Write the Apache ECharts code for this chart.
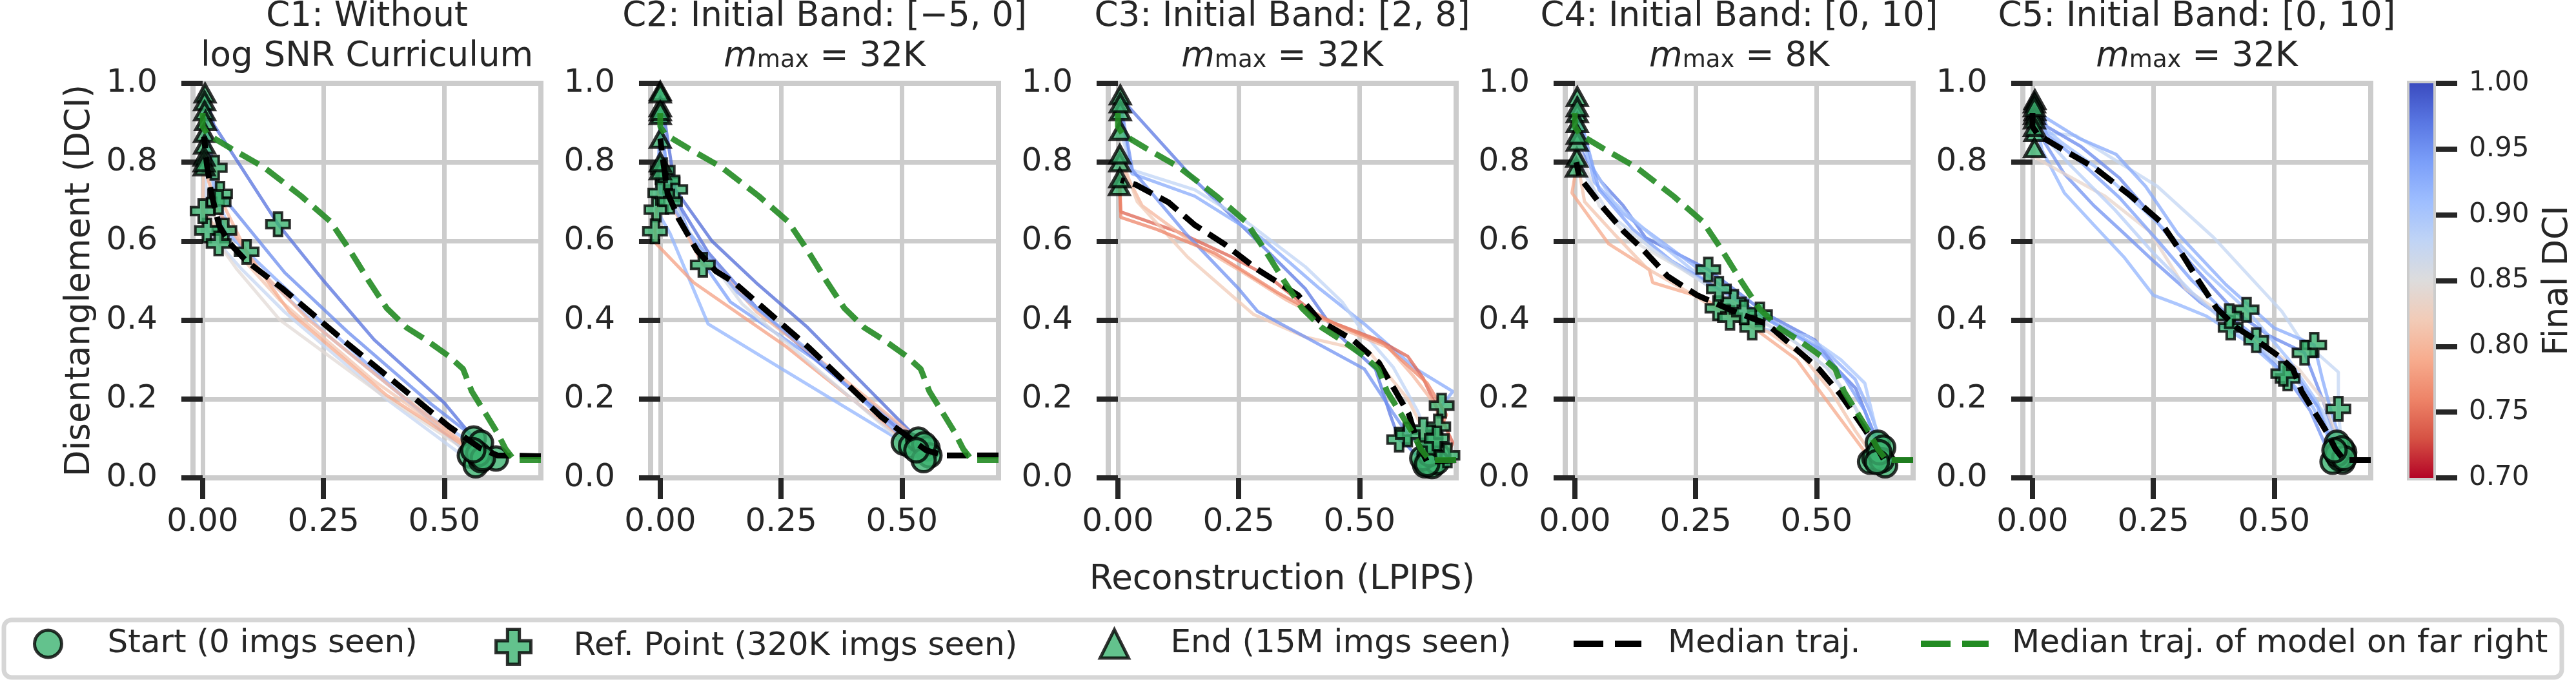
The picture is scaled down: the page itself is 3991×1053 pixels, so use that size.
<!DOCTYPE html>
<html>
<head>
<meta charset="utf-8">
<script src="https://cdn.jsdelivr.net/npm/echarts@6.0.0/dist/echarts.min.js"></script>
<style>
  html, body { margin: 0; padding: 0; background: #fff; }
  #chart { width: 3991px; height: 1053px; }
</style>
</head>
<body>
<div id="chart"></div>
<script>
// ---------- data ----------
const xTicks = [0, 0.25, 0.5];
const cbMin = 0.70, cbMax = 1.00;

const titleLine1 = ['C1: Without', 'C2: Initial Band: [\u22125, 0]', 'C3: Initial Band: [2, 8]',
                    'C4: Initial Band: [0, 10]', 'C5: Initial Band: [0, 10]'];
const mMax = [null, '32K', '32K', '8K', '32K'];

// each trajectory: start -> ... -> end, points are [LPIPS, DCI]
const trajC1 = [
  [[0.561,0.10],[0.50,0.19],[0.355,0.35],[0.25,0.50],[0.156,0.643],[0.023,0.895],[0.005,0.975]],
  [[0.576,0.089],[0.47,0.19],[0.30,0.37],[0.17,0.52],[0.07,0.67],[0.036,0.72],[0.01,0.86],[0.004,0.955]],
  [[0.553,0.057],[0.42,0.20],[0.25,0.39],[0.12,0.54],[0.045,0.627],[0.015,0.78],[0.004,0.93]],
  [[0.607,0.049],[0.44,0.18],[0.26,0.36],[0.12,0.52],[0.06,0.62],[0.033,0.699],[0.006,0.905]],
  [[0.565,0.032],[0.38,0.20],[0.17,0.42],[0.08,0.53],[0.009,0.627],[0.004,0.875]],
  [[0.576,0.045],[0.36,0.22],[0.16,0.40],[0.07,0.53],[0.033,0.594],[0.004,0.845]],
  [[0.57,0.06],[0.35,0.25],[0.16,0.45],[0.05,0.60],[0.0,0.676],[0.003,0.815]],
  [[0.58,0.05],[0.38,0.21],[0.18,0.42],[0.091,0.573],[0.03,0.68],[0.003,0.79]],
  [[0.56,0.07],[0.40,0.22],[0.22,0.40],[0.10,0.55],[0.04,0.70],[0.025,0.786],[0.003,0.80]]
];
const refIdxC1 = [4, 5, 4, 5, 4, 4, 4, 3, 5];

const trajC2 = [
  [[0.504,0.089],[0.252,0.276],[0.099,0.39],[0.02,0.62],[-0.008,0.68],[0.0,0.92]],
  [[0.519,0.081],[0.26,0.333],[0.069,0.495],[-0.008,0.593],[-0.011,0.625],[0.0,0.78]],
  [[0.534,0.097],[0.305,0.381],[0.198,0.495],[0.107,0.60],[0.031,0.731],[0.0,0.98]],
  [[0.553,0.075],[0.32,0.30],[0.145,0.446],[0.08,0.56],[0.015,0.755],[0.0,0.94]],
  [[0.557,0.057],[0.35,0.27],[0.20,0.43],[0.10,0.57],[0.035,0.70],[0.0,0.722],[0.0,0.975]],
  [[0.546,0.085],[0.35,0.28],[0.20,0.42],[0.12,0.53],[0.088,0.54],[0.02,0.70],[0.0,0.80]],
  [[0.545,0.045],[0.33,0.27],[0.17,0.44],[0.05,0.64],[0.005,0.78],[0.0,0.86]],
  [[0.53,0.07],[0.31,0.32],[0.16,0.47],[0.06,0.62],[0.02,0.70],[0.0,0.93]]
];
const refIdxC2 = [4, 4, 4, 4, 5, 4, 4, 4];

const trajC3 = [
  [[0.636,0.032],[0.60,0.08],[0.582,0.097],[0.563,0.162],[0.533,0.276],[0.45,0.37],[0.388,0.479],[0.289,0.60],[0.159,0.755],[0.021,0.942],[0.005,0.97]],
  [[0.663,0.057],[0.67,0.10],[0.67,0.183],[0.693,0.219],[0.617,0.276],[0.51,0.39],[0.418,0.479],[0.296,0.609],[0.159,0.714],[0.029,0.771],[0.005,0.93]],
  [[0.647,0.04],[0.64,0.06],[0.647,0.089],[0.62,0.17],[0.57,0.28],[0.51,0.365],[0.464,0.446],[0.388,0.535],[0.266,0.649],[0.159,0.73],[0.03,0.78],[0.005,0.88]],
  [[0.65,0.03],[0.682,0.057],[0.693,0.089],[0.632,0.252],[0.60,0.308],[0.54,0.349],[0.418,0.406],[0.311,0.511],[0.235,0.56],[0.121,0.625],[0.006,0.674],[0.003,0.74]],
  [[0.66,0.04],[0.663,0.13],[0.66,0.18],[0.61,0.26],[0.56,0.33],[0.46,0.38],[0.35,0.45],[0.26,0.52],[0.15,0.60],[0.05,0.69],[0.004,0.80]],
  [[0.63,0.05],[0.632,0.122],[0.60,0.20],[0.52,0.32],[0.388,0.357],[0.281,0.414],[0.144,0.56],[0.04,0.70],[0.004,0.82]],
  [[0.645,0.06],[0.62,0.09],[0.60,0.11],[0.571,0.162],[0.51,0.276],[0.388,0.357],[0.289,0.422],[0.25,0.479],[0.14,0.62],[0.03,0.78],[0.005,0.95]],
  [[0.64,0.035],[0.66,0.10],[0.68,0.16],[0.64,0.24],[0.55,0.34],[0.45,0.39],[0.33,0.47],[0.20,0.57],[0.08,0.63],[0.006,0.66],[0.004,0.76]]
];
const refIdxC3 = [2, 2, 2, 1, 1, 1, 2, 1];

const trajC4 = [
  [[0.627,0.089],[0.581,0.227],[0.543,0.276],[0.497,0.349],[0.398,0.414],[0.276,0.528],[0.146,0.609],[0.10,0.69],[0.055,0.75],[0.009,0.836],[0.005,0.966]],
  [[0.638,0.077],[0.61,0.17],[0.58,0.25],[0.52,0.32],[0.45,0.37],[0.383,0.414],[0.30,0.49],[0.20,0.58],[0.10,0.67],[0.04,0.75],[0.005,0.925]],
  [[0.642,0.032],[0.62,0.14],[0.60,0.24],[0.55,0.30],[0.48,0.36],[0.367,0.381],[0.30,0.47],[0.19,0.58],[0.08,0.70],[0.03,0.80],[0.005,0.90]],
  [[0.611,0.041],[0.596,0.073],[0.512,0.211],[0.459,0.30],[0.37,0.38],[0.295,0.43],[0.269,0.455],[0.161,0.495],[0.154,0.528],[0.07,0.593],[-0.006,0.722],[0.003,0.787]],
  [[0.62,0.05],[0.58,0.12],[0.53,0.22],[0.47,0.31],[0.40,0.37],[0.321,0.406],[0.25,0.46],[0.15,0.53],[0.08,0.62],[0.02,0.70],[0.004,0.812]],
  [[0.635,0.045],[0.59,0.16],[0.53,0.27],[0.46,0.34],[0.329,0.446],[0.22,0.53],[0.12,0.60],[0.05,0.69],[0.005,0.853]],
  [[0.63,0.065],[0.60,0.17],[0.56,0.25],[0.50,0.33],[0.40,0.40],[0.298,0.479],[0.20,0.55],[0.12,0.63],[0.05,0.73],[0.005,0.94]],
  [[0.625,0.04],[0.58,0.18],[0.52,0.28],[0.44,0.36],[0.35,0.42],[0.26,0.50],[0.16,0.58],[0.07,0.67],[0.02,0.77],[0.005,0.87]]
];
const refIdxC4 = [5, 5, 5, 5, 5, 4, 5, 4];

const trajC5 = [
  [[0.642,0.041],[0.633,0.175],[0.633,0.268],[0.551,0.357],[0.516,0.422],[0.375,0.609],[0.258,0.739],[0.089,0.868],[0.005,0.877]],
  [[0.645,0.065],[0.62,0.16],[0.60,0.25],[0.583,0.337],[0.50,0.38],[0.40,0.49],[0.30,0.62],[0.234,0.739],[0.173,0.82],[0.097,0.86],[0.005,0.93]],
  [[0.63,0.089],[0.60,0.20],[0.563,0.317],[0.49,0.36],[0.42,0.42],[0.33,0.54],[0.25,0.66],[0.18,0.76],[0.10,0.84],[0.03,0.89],[0.005,0.958]],
  [[0.621,0.041],[0.575,0.17],[0.528,0.252],[0.504,0.284],[0.434,0.373],[0.346,0.446],[0.25,0.55],[0.189,0.62],[0.127,0.69],[0.066,0.77],[0.02,0.86],[0.004,0.95]],
  [[0.635,0.05],[0.58,0.18],[0.519,0.264],[0.45,0.34],[0.36,0.41],[0.30,0.44],[0.25,0.463],[0.189,0.56],[0.127,0.641],[0.066,0.722],[0.02,0.83],[0.004,0.92]],
  [[0.64,0.075],[0.60,0.20],[0.551,0.276],[0.463,0.349],[0.40,0.41],[0.317,0.479],[0.242,0.625],[0.15,0.714],[0.005,0.812],[0.004,0.836]],
  [[0.63,0.06],[0.59,0.19],[0.53,0.30],[0.443,0.426],[0.36,0.52],[0.29,0.61],[0.22,0.69],[0.14,0.78],[0.06,0.85],[0.004,0.909]],
  [[0.645,0.05],[0.60,0.17],[0.53,0.27],[0.47,0.33],[0.41,0.381],[0.33,0.47],[0.25,0.57],[0.17,0.68],[0.08,0.79],[0.02,0.87],[0.004,0.89]],
  [[0.625,0.07],[0.59,0.18],[0.54,0.27],[0.48,0.34],[0.407,0.41],[0.33,0.50],[0.26,0.60],[0.18,0.71],[0.10,0.80],[0.03,0.87],[0.004,0.94]]
];
const refIdxC5 = [1, 3, 2, 2, 2, 3, 3, 4, 4];

// median trajectories
const medianC1 = [[0.70,0.055],[0.61,0.057],[0.575,0.075],[0.51,0.13],[0.29,0.35],[0.165,0.48],[0.09,0.55],[0.057,0.593],[0.034,0.64],[0.018,0.72],[0.008,0.80],[0.003,0.865]];
const medianC2 = [[0.70,0.057],[0.588,0.057],[0.55,0.07],[0.458,0.154],[0.305,0.333],[0.153,0.495],[0.115,0.524],[0.076,0.576],[0.038,0.657],[0.015,0.722],[0.004,0.82],[0.0,0.86]];
const medianC3 = [[0.70,0.045],[0.64,0.04],[0.62,0.09],[0.602,0.162],[0.54,0.292],[0.487,0.349],[0.418,0.398],[0.373,0.463],[0.289,0.528],[0.22,0.593],[0.159,0.641],[0.105,0.698],[0.037,0.743],[0.006,0.755]];
const medianC4 = [[0.70,0.045],[0.64,0.045],[0.627,0.073],[0.596,0.13],[0.55,0.211],[0.505,0.276],[0.459,0.325],[0.398,0.39],[0.329,0.422],[0.253,0.463],[0.192,0.511],[0.14,0.58],[0.101,0.625],[0.055,0.69],[0.009,0.763],[0.003,0.80]];
const medianC5 = [[0.70,0.045],[0.645,0.045],[0.627,0.073],[0.61,0.114],[0.586,0.162],[0.557,0.219],[0.539,0.276],[0.51,0.308],[0.463,0.349],[0.422,0.381],[0.381,0.43],[0.346,0.495],[0.305,0.576],[0.265,0.649],[0.204,0.714],[0.127,0.787],[0.057,0.836],[0.011,0.87],[0.0,0.89],[0.0,0.94]];

// ---------- style ----------
const FONT = 'DejaVu Sans';
const TXT = '#262626';
const GRIDC = '#cccccc';
const MK = '#3cb371';
const FARGREEN = '#228b22';
const PLUS = 'path://M33,0H67V33H100V67H67V100H33V67H0V33H33Z';
const DASH = [33, 14];
const coolwarm = ['#3b4cc0','#5977e3','#7b9ff9','#9ebeff','#c0d4f5','#dddcdc','#f2cbb7','#f7ac8e','#ee8468','#d65244','#b40426'];

function hex2rgb(h) { return [1,3,5].map(i => parseInt(h.substr(i, 2), 16)); }
// reversed coolwarm, 1.00 -> blue, 0.70 -> red
function dciColor(v) {
  let t = (cbMax - v) / (cbMax - cbMin);
  t = Math.max(0, Math.min(1, t)) * 10;
  const k = Math.min(9, Math.floor(t)), f = t - k;
  const a = hex2rgb(coolwarm[k]), b = hex2rgb(coolwarm[k + 1]);
  const c = a.map((x, j) => Math.round(x + (b[j] - x) * f));
  return 'rgb(' + c.join(',') + ')';
}

const panels = [
  { traj: trajC1, ref: refIdxC1, median: medianC1 },
  { traj: trajC2, ref: refIdxC2, median: medianC2 },
  { traj: trajC3, ref: refIdxC3, median: medianC3 },
  { traj: trajC4, ref: refIdxC4, median: medianC4 },
  { traj: trajC5, ref: refIdxC5, median: medianC5 }
];

const gridLefts = [299, 1008, 1717, 2425, 3134];
const gridTop = 129, gridW = 539, gridH = 611;

const grids = [], xAxes = [], yAxes = [], series = [], titles = [];
const tStyle = { fontSize: 53, color: TXT, fontFamily: FONT, fontWeight: 'normal', verticalAlign: 'top' };

panels.forEach((p, i) => {
  grids.push({ left: gridLefts[i], top: gridTop, width: gridW, height: gridH,
    show: true, borderColor: GRIDC, borderWidth: 8, backgroundColor: '#fff' });

  xAxes.push({
    type: 'value', gridIndex: i, min: -0.02, max: 0.70, offset: 4,
    axisLine: { show: false },
    axisTick: { show: true, length: 33, customValues: xTicks, lineStyle: { color: TXT, width: 8 } },
    axisLabel: { show: true, customValues: xTicks, formatter: v => v.toFixed(2),
      fontSize: 50, color: TXT, fontFamily: FONT, margin: 40 },
    splitLine: { show: true, lineStyle: { color: GRIDC, width: 7 } },
    name: i === 2 ? 'Reconstruction (LPIPS)' : '',
    nameLocation: 'middle', nameGap: 128,
    nameTextStyle: { fontSize: 53, color: TXT, fontFamily: FONT }
  });

  yAxes.push({
    type: 'value', gridIndex: i, min: 0, max: 1, interval: 0.2, offset: 4,
    axisLine: { show: false },
    axisTick: { show: true, length: 33, lineStyle: { color: TXT, width: 8 } },
    axisLabel: { formatter: v => v.toFixed(1), fontSize: 50, color: TXT, fontFamily: FONT, margin: 51 },
    splitLine: { show: true, lineStyle: { color: GRIDC, width: 7 } },
    name: i === 0 ? 'Disentanglement (DCI)' : '',
    nameLocation: 'middle', nameRotate: 90, nameGap: 144,
    nameTextStyle: { fontSize: 53, color: TXT, fontFamily: FONT }
  });

  const cx = gridLefts[i] + gridW / 2;
  titles.push({
    text: '{a|' + titleLine1[i] + '}', left: cx, top: 0, textAlign: 'center', padding: 0,
    textStyle: { fontWeight: 'normal', rich: { a: Object.assign({ lineHeight: 48 }, tStyle) } }
  });
  titles.push({
    text: i === 0 ? '{a|log SNR Curriculum}' : '{m|m}{s|max}{a| = ' + mMax[i] + '}',
    left: cx, top: 62, textAlign: 'center', padding: 0,
    textStyle: { fontWeight: 'normal', rich: {
      a: Object.assign({ lineHeight: 64 }, tStyle),
      m: Object.assign({ lineHeight: 64, fontStyle: 'italic' }, tStyle),
      s: Object.assign({}, tStyle, { fontSize: 37, lineHeight: 64, padding: [14, 0, 0, 0] })
    } }
  });

  // individual trajectories coloured by final DCI
  p.traj.forEach(t => {
    series.push({
      type: 'line', name: 'run', xAxisIndex: i, yAxisIndex: i, data: t,
      symbol: 'none', silent: true, z: 2,
      lineStyle: { color: dciColor(t[t.length - 1][1]), width: 5, opacity: 0.75 }
    });
  });

  const mkStyle = { color: MK, borderColor: '#000', borderWidth: 5 };
  series.push({
    type: 'scatter', name: 'Start (0 imgs seen)', xAxisIndex: i, yAxisIndex: i, z: 3,
    data: p.traj.map(t => t[0]), symbol: 'circle', symbolSize: 36, itemStyle: mkStyle
  });
  series.push({
    type: 'scatter', name: 'Ref. Point (320K imgs seen)', xAxisIndex: i, yAxisIndex: i, z: 3,
    data: p.traj.map((t, k) => t[p.ref[k]]), symbol: PLUS, symbolSize: 36,
    itemStyle: { color: MK, borderColor: '#000', borderWidth: 4 }
  });
  series.push({
    type: 'scatter', name: 'End (15M imgs seen)', xAxisIndex: i, yAxisIndex: i, z: 3,
    data: p.traj.map(t => t[t.length - 1]), symbol: 'triangle', symbolSize: [30, 27], itemStyle: mkStyle
  });

  series.push({
    type: 'line', name: 'Median traj.', xAxisIndex: i, yAxisIndex: i, data: p.median,
    symbol: 'none', z: 4, itemStyle: { color: '#000' },
    lineStyle: { color: '#000', width: 9, type: DASH }
  });
  if (i < 4) {
    series.push({
      type: 'line', name: 'Median traj. of model on far right', xAxisIndex: i, yAxisIndex: i, data: medianC5,
      symbol: 'none', z: 5, itemStyle: { color: FARGREEN },
      lineStyle: { color: FARGREEN, width: 9, type: DASH, opacity: 0.9 }
    });
  }
});

// colour bar
grids.push({ left: 3733, top: gridTop, width: 54, height: gridH, show: true, borderColor: GRIDC, borderWidth: 8 });
xAxes.push({ type: 'category', gridIndex: 5, data: ['cb'], show: false });
yAxes.push({
  type: 'value', gridIndex: 5, min: cbMin, max: cbMax, interval: 0.05, position: 'right', offset: 4,
  axisLine: { show: false },
  axisTick: { show: true, length: 33, lineStyle: { color: TXT, width: 8 } },
  axisLabel: { formatter: v => v.toFixed(2), fontSize: 42, color: TXT, fontFamily: FONT, margin: 51 },
  splitLine: { show: false },
  name: 'Final DCI', nameLocation: 'middle', nameRotate: 90, nameGap: 163,
  nameTextStyle: { fontSize: 53, color: TXT, fontFamily: FONT }
});
series.push({ type: 'bar', name: 'cb0', xAxisIndex: 5, yAxisIndex: 5, stack: 'cb', silent: true,
  barWidth: 46, data: [cbMin], itemStyle: { color: 'rgba(0,0,0,0)' } });
series.push({ type: 'bar', name: 'cb1', xAxisIndex: 5, yAxisIndex: 5, stack: 'cb', silent: true,
  barWidth: 46, data: [+(cbMax - cbMin).toFixed(4)],
  itemStyle: { color: new echarts.graphic.LinearGradient(0, 0, 0, 1,
    coolwarm.map((c, k) => ({ offset: k / 10, color: c }))) } });

// legend: one component per entry, laid out like the original handle boxes
const legTxt = pad => ({ fontSize: 50, color: TXT, fontFamily: FONT, padding: [0, 0, 0, pad] });
const legends = [
  { left: 51, itemWidth: 42, itemHeight: 42, textStyle: legTxt(66),
    data: [{ name: 'Start (0 imgs seen)', icon: 'circle', itemStyle: { color: MK, borderColor: '#000', borderWidth: 5 } }] },
  { left: 766, itemWidth: 54, itemHeight: 54, textStyle: legTxt(61),
    data: [{ name: 'Ref. Point (320K imgs seen)', icon: PLUS, itemStyle: { color: MK, borderColor: '#000', borderWidth: 5 } }] },
  { left: 1702, itemWidth: 44, itemHeight: 44, textStyle: legTxt(60),
    data: [{ name: 'End (15M imgs seen)', icon: 'triangle', itemStyle: { color: MK, borderColor: '#000', borderWidth: 5 } }] },
  { left: 2438, itemWidth: 105, itemHeight: 10, textStyle: legTxt(36),
    data: [{ name: 'Median traj.', icon: 'path://M0,0H46V10H0ZM64,0H105V10H64Z', itemStyle: { color: '#000', borderWidth: 0 } }] },
  { left: 2976, itemWidth: 105, itemHeight: 10, textStyle: legTxt(31),
    data: [{ name: 'Median traj. of model on far right', icon: 'path://M0,0H46V10H0ZM64,0H105V10H64Z', itemStyle: { color: FARGREEN, borderWidth: 0 } }] }
].map(l => Object.assign({ top: 972, padding: 0, selectedMode: false, orient: 'horizontal' }, l));

const chart = echarts.init(document.getElementById('chart'), null, { renderer: 'canvas' });
chart.setOption({
  animation: false,
  backgroundColor: '#fff',
  textStyle: { fontFamily: FONT },
  title: titles,
  grid: grids,
  xAxis: xAxes,
  yAxis: yAxes,
  legend: legends,
  graphic: [{ type: 'rect', z: 0, shape: { x: 6, y: 960, width: 3963, height: 89, r: 12 },
    style: { fill: '#fff', stroke: '#d6d6d6', lineWidth: 7 } }],
  series: series
});
window.addEventListener('resize', chart.resize);
</script>
</body>
</html>
